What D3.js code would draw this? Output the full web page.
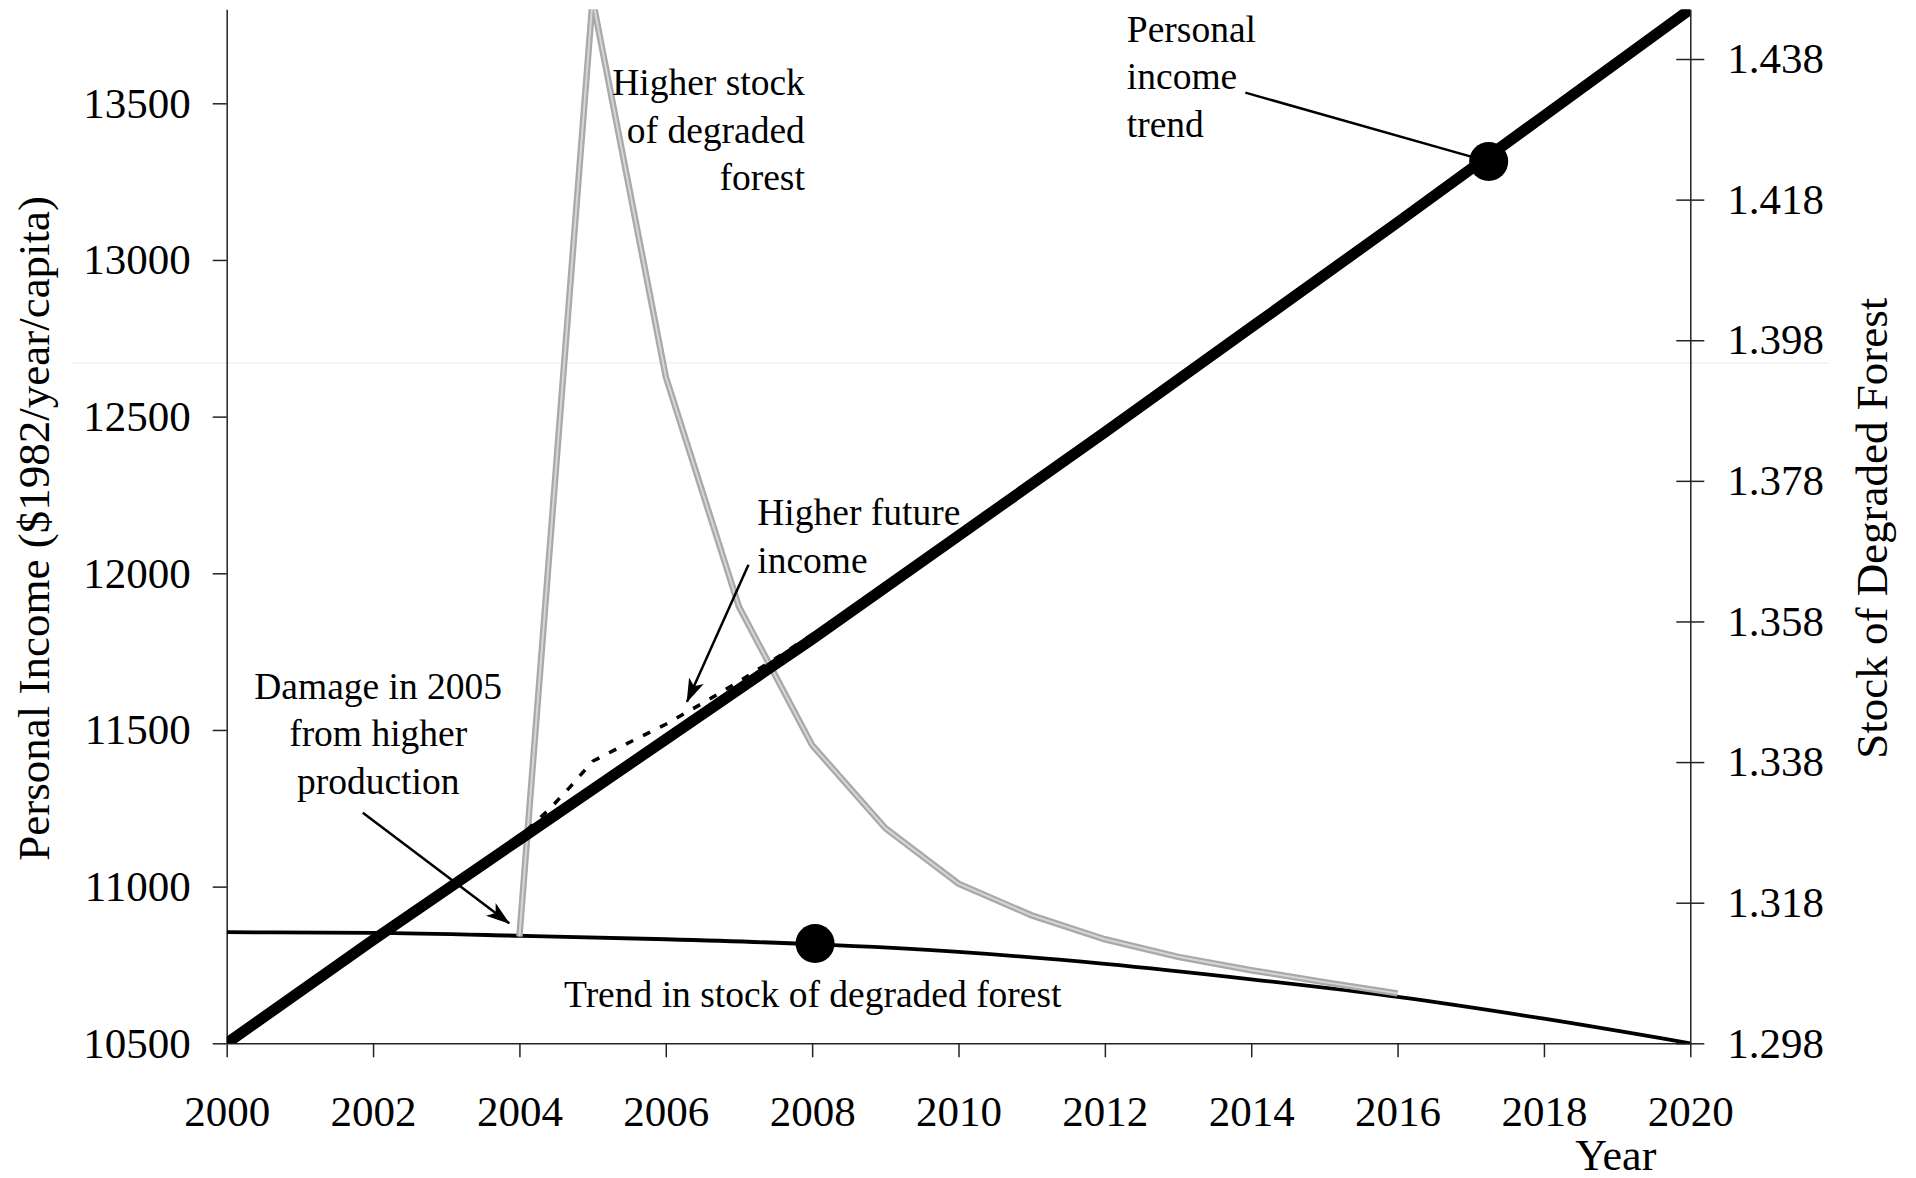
<!DOCTYPE html>
<html><head><meta charset="utf-8">
<script src="https://cdn.jsdelivr.net/npm/d3@7"></script>
<style>
body{margin:0;background:#fff}
svg{display:block}
text{font-family:"Liberation Serif","Times New Roman",serif;fill:#000}
</style>
</head><body>
<svg id="chart" width="1916" height="1178"></svg>
<script>
// ---------- data ----------
const trendYears   = [2000, 2002, 2004, 2006, 2008, 2010, 2012, 2014, 2016, 2018, 2020];
const incomeTrend  = [10500, 10830, 11150, 11470, 11790, 12120, 12450, 12785, 13120, 13460, 13800];
const stockTrend   = [1.3138, 1.3137, 1.3133, 1.3128, 1.3121, 1.3110, 1.3093, 1.3071, 1.3046, 1.3015, 1.2980];

const futureYears  = [2004.1, 2004.4, 2004.7, 2005.0, 2005.5, 2006.0, 2006.5, 2007.0, 2007.5, 2008.0, 2008.4];
const futureIncome = [11180, 11245, 11320, 11400, 11460, 11518, 11585, 11655, 11728, 11805, 11862];

const higherYears  = [2004, 2005, 2006, 2007, 2008, 2009, 2010, 2011, 2012, 2013, 2014, 2015, 2016];
const higherStock  = [1.3132, 1.4465, 1.3928, 1.3601, 1.3404, 1.3286, 1.3207, 1.3162, 1.3128, 1.3103, 1.3084, 1.3067, 1.3051];

const xTickValues     = [2000, 2002, 2004, 2006, 2008, 2010, 2012, 2014, 2016, 2018, 2020];
const leftTickValues  = [10500, 11000, 11500, 12000, 12500, 13000, 13500];
const rightTickValues = [1.298, 1.318, 1.338, 1.358, 1.378, 1.398, 1.418, 1.438];

const incomeDot = {year: 2017.245, value: 13314};
const stockDot  = {year: 2008.04,  value: 1.3122};

// annotations (data units, left axis)
const noteStock   = {year: 2007.90, value: 13526, lines: ["Higher stock", "of degraded", "forest"], anchor: "end"};
const noteIncome  = {year: 2012.30, value: 13696, lines: ["Personal", "income", "trend"], anchor: "start"};
const noteFuture  = {year: 2007.25, value: 12153, lines: ["Higher future", "income"], anchor: "start"};
const noteDamage  = {year: 2002.07, value: 11599, lines: ["Damage in 2005", "from higher", "production"], anchor: "middle"};
const noteTrend   = {year: 2004.61, value: 10617, lines: ["Trend in stock of degraded forest"], anchor: "start"};

const arrowDamage = {from: [2001.86, 11236], to: [2003.86, 10883]};
const arrowFuture = {from: [2007.13, 12027], to: [2006.29, 11590]};
const leaderIncome = {from: [2013.92, 13534], to: [incomeDot.year, incomeDot.value]};

// ---------- layout ----------
const X0 = 226.7, X1 = 1690.3, Y0 = 9.3, Y1 = 1043.3;
const svg = d3.select("#chart");

const x  = d3.scaleLinear().domain([2000, 2020]).range([X0, X1]);
const yL = d3.scaleLinear().domain([10500, 13800]).range([Y1, Y0]);
const yR = d3.scaleLinear().domain([1.298, 1.44507]).range([Y1, Y0]);

const defs = svg.append("defs");
defs.append("clipPath").attr("id", "plot")
  .append("rect").attr("x", X0).attr("y", Y0).attr("width", X1 - X0).attr("height", Y1 - Y0);
defs.append("marker").attr("id", "arrow")
  .attr("viewBox", "0 0 24 16").attr("refX", 23).attr("refY", 8)
  .attr("markerWidth", 24).attr("markerHeight", 16)
  .attr("markerUnits", "userSpaceOnUse").attr("orient", "auto")
  .append("path").attr("d", "M0,0 L24,8 L0,16 L6,8 Z").attr("fill", "#000");

// faint artifact line
svg.append("line")
  .attr("x1", X0 - 156).attr("x2", X1 + 139)
  .attr("y1", yL(12671)).attr("y2", yL(12671))
  .attr("stroke", "#ececec").attr("stroke-width", 1);

// ---------- axes ----------
const axisColor = "#222";
const gL = svg.append("g").attr("transform", `translate(${X0},0)`)
  .call(d3.axisLeft(yL).tickValues(leftTickValues).tickFormat(d3.format("d"))
        .tickSize(14).tickSizeOuter(0).tickPadding(22));
const gB = svg.append("g").attr("transform", `translate(0,${Y1})`)
  .call(d3.axisBottom(x).tickValues(xTickValues).tickFormat(d3.format("d"))
        .tickSize(14).tickSizeOuter(0).tickPadding(38));
const gR = svg.append("g").attr("transform", `translate(${X1},0)`)
  .call(d3.axisRight(yR).tickValues(rightTickValues).tickFormat(d3.format(".3f"))
        .tickSize(14).tickSizeOuter(0).tickPadding(23));
gR.selectAll(".tick line").attr("x1", -14);

[gL, gB, gR].forEach(g => {
  g.selectAll("path.domain").attr("stroke", axisColor).attr("stroke-width", 1.5);
  g.selectAll(".tick line").attr("stroke", axisColor).attr("stroke-width", 1.5);
  g.selectAll(".tick text").attr("font-family", "Liberation Serif").attr("font-size", 43).attr("fill", "#000");
});

// axis titles
svg.append("text")
  .attr("transform", `translate(49,${(Y0 + Y1) / 2 + 2}) rotate(-90)`)
  .attr("text-anchor", "middle").attr("font-size", 45)
  .text("Personal Income ($1982/year/capita)");
svg.append("text")
  .attr("transform", `translate(1887,${(Y0 + Y1) / 2 + 2}) rotate(-90)`)
  .attr("text-anchor", "middle").attr("font-size", 45)
  .text("Stock of Degraded Forest");
svg.append("text")
  .attr("x", X1 - 34).attr("y", 1169.5)
  .attr("text-anchor", "end").attr("font-size", 44)
  .text("Year");

// ---------- series ----------
const plot = svg.append("g").attr("clip-path", "url(#plot)");

// trend in stock of degraded forest (thin black, right axis)
plot.append("path")
  .datum(trendYears.map((t, i) => [t, stockTrend[i]]))
  .attr("d", d3.line().x(d => x(d[0])).y(d => yR(d[1])).curve(d3.curveMonotoneX))
  .attr("fill", "none").attr("stroke", "#000").attr("stroke-width", 3.8);

// higher stock of degraded forest (grey double stroke, right axis)
const higherLine = d3.line().x(d => x(d[0])).y(d => yR(d[1]));
const higherData = higherYears.map((t, i) => [t, higherStock[i]]);
plot.append("path").datum(higherData).attr("d", higherLine)
  .attr("fill", "none").attr("stroke", "#a9a9a9").attr("stroke-width", 6.5).attr("stroke-linejoin", "miter");
plot.append("path").datum(higherData).attr("d", higherLine)
  .attr("fill", "none").attr("stroke", "#d6d6d6").attr("stroke-width", 2).attr("stroke-linejoin", "miter");

// higher future income (dashed, left axis)
plot.append("path")
  .datum(futureYears.map((t, i) => [t, futureIncome[i]]))
  .attr("d", d3.line().x(d => x(d[0])).y(d => yL(d[1])))
  .attr("fill", "none").attr("stroke", "#000").attr("stroke-width", 3.5)
  .attr("stroke-dasharray", "8,11");

// personal income trend (thick black, left axis)
plot.append("path")
  .datum(trendYears.map((t, i) => [t, incomeTrend[i]]))
  .attr("d", d3.line().x(d => x(d[0])).y(d => yL(d[1])))
  .attr("fill", "none").attr("stroke", "#000").attr("stroke-width", 11);

// ---------- annotations ----------
function arrowLine(a, marker) {
  const l = svg.append("line")
    .attr("x1", x(a.from[0])).attr("y1", yL(a.from[1]))
    .attr("x2", x(a.to[0])).attr("y2", yL(a.to[1]))
    .attr("stroke", "#000").attr("stroke-width", 2.5);
  if (marker) l.attr("marker-end", "url(#arrow)");
}
arrowLine(arrowDamage, true);
arrowLine(arrowFuture, true);
arrowLine(leaderIncome, false);

// dots
svg.append("circle").attr("cx", x(incomeDot.year)).attr("cy", yL(incomeDot.value)).attr("r", 19.5).attr("fill", "#000");
svg.append("circle").attr("cx", x(stockDot.year)).attr("cy", yR(stockDot.value)).attr("r", 19.5).attr("fill", "#000");

function note(n) {
  const t = svg.append("text")
    .attr("x", x(n.year)).attr("y", yL(n.value))
    .attr("text-anchor", n.anchor).attr("font-size", 37.5);
  n.lines.forEach((s, i) => {
    t.append("tspan").attr("x", x(n.year)).attr("dy", i === 0 ? 0 : "1.267em").text(s);
  });
}
[noteStock, noteIncome, noteFuture, noteDamage, noteTrend].forEach(note);
</script>
</body></html>
